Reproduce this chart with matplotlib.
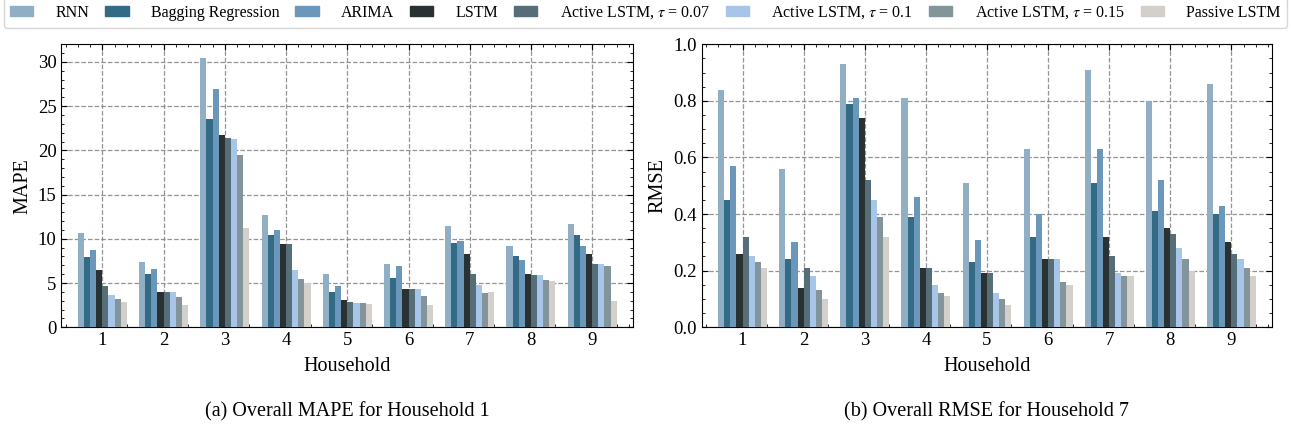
"""Grouped bar charts of MAPE and RMSE per household for the forecasting models."""

import matplotlib
matplotlib.use("Agg")
import matplotlib.pyplot as plt
import numpy as np
from matplotlib.patches import Patch
from matplotlib.ticker import AutoMinorLocator, MultipleLocator

households = [1, 2, 3, 4, 5, 6, 7, 8, 9]
models = [
    "RNN",
    "Bagging Regression",
    "ARIMA",
    "LSTM",
    r"Active LSTM, $\tau$ = 0.07",
    r"Active LSTM, $\tau$ = 0.1",
    r"Active LSTM, $\tau$ = 0.15",
    "Passive LSTM",
]
colors = ["#90AFC5", "#336B87", "#6A97BA", "#2A3132",
          "#556E78", "#A7C4E9", "#83959A", "#D3D0CB"]

# MAPE, one list per model (households 1..9)
mape_rnn = [10.7, 7.4, 30.5, 12.7, 6.0, 7.15, 11.45, 9.2, 11.7]
mape_bagging = [7.95, 6.0, 23.6, 10.4, 4.0, 5.6, 9.5, 8.05, 10.45]
mape_arima = [8.75, 6.6, 26.9, 11.0, 4.7, 6.95, 9.75, 7.6, 9.2]
mape_lstm = [6.5, 4.0, 21.7, 9.4, 3.1, 4.35, 8.3, 6.0, 8.3]
mape_act007 = [4.7, 4.0, 21.4, 9.4, 2.85, 4.35, 6.0, 5.9, 7.15]
mape_act01 = [3.65, 4.0, 21.3, 6.5, 2.75, 4.35, 4.8, 5.9, 7.15]
mape_act015 = [3.2, 3.45, 19.5, 5.45, 2.75, 3.55, 3.9, 5.35, 6.95]
mape_passive = [2.85, 2.5, 11.2, 5.0, 2.65, 2.5, 4.0, 5.25, 2.95]

# RMSE, one list per model (households 1..9)
rmse_rnn = [0.84, 0.56, 0.93, 0.81, 0.51, 0.63, 0.91, 0.80, 0.86]
rmse_bagging = [0.45, 0.24, 0.79, 0.39, 0.23, 0.32, 0.51, 0.41, 0.40]
rmse_arima = [0.57, 0.30, 0.81, 0.46, 0.31, 0.40, 0.63, 0.52, 0.43]
rmse_lstm = [0.26, 0.14, 0.74, 0.21, 0.19, 0.24, 0.32, 0.35, 0.30]
rmse_act007 = [0.32, 0.21, 0.52, 0.21, 0.19, 0.24, 0.25, 0.33, 0.26]
rmse_act01 = [0.25, 0.18, 0.45, 0.15, 0.12, 0.24, 0.19, 0.28, 0.24]
rmse_act015 = [0.23, 0.13, 0.39, 0.12, 0.10, 0.16, 0.18, 0.24, 0.21]
rmse_passive = [0.21, 0.10, 0.32, 0.11, 0.08, 0.15, 0.18, 0.20, 0.18]

mape = [mape_rnn, mape_bagging, mape_arima, mape_lstm,
        mape_act007, mape_act01, mape_act015, mape_passive]
rmse = [rmse_rnn, rmse_bagging, rmse_arima, rmse_lstm,
        rmse_act007, rmse_act01, rmse_act015, rmse_passive]

plt.rcParams["font.family"] = ["Liberation Serif", "DejaVu Serif"]
plt.rcParams["mathtext.fontset"] = "stix"

fig = plt.figure(figsize=(12.91, 4.34), dpi=100)
ax1 = fig.add_axes([0.0475, 0.246, 0.443, 0.652])
ax2 = fig.add_axes([0.5435, 0.246, 0.442, 0.652])

width = 0.1
x = np.array(households, dtype=float)


def draw(ax, data, ylabel, ylim, major, minor, caption):
    for i, (vals, c) in enumerate(zip(data, colors)):
        ax.bar(x + (i - 3.5) * width, vals, width, color=c, zorder=3)
    ax.set_xlim(0.33, 9.67)
    ax.set_ylim(*ylim)
    ax.set_xticks(households)
    ax.xaxis.set_minor_locator(AutoMinorLocator(5))
    ax.yaxis.set_major_locator(MultipleLocator(major))
    ax.yaxis.set_minor_locator(MultipleLocator(minor))
    ax.tick_params(which="both", direction="in", top=True, right=True,
                   labelsize=13.5)
    ax.tick_params(which="major", length=4)
    ax.tick_params(which="minor", length=2)
    ax.grid(True, which="major", linestyle="--", color="#888888",
            linewidth=0.9, alpha=0.9, zorder=0)
    ax.set_xlabel("Household", fontsize=14.5, labelpad=6)
    ax.set_ylabel(ylabel, fontsize=14.5)
    ax.text(0.5, -0.265, caption, transform=ax.transAxes, ha="center",
            va="top", fontsize=14.5)


draw(ax1, mape, "MAPE", (0, 32), 5, 1, "(a) Overall MAPE for Household 1")
draw(ax2, rmse, "RMSE", (0, 1.0), 0.2, 0.05, "(b) Overall RMSE for Household 7")
ax2.yaxis.set_major_formatter(plt.FuncFormatter(lambda v, p: f"{v:.1f}"))

handles = [Patch(color=c, label=m) for m, c in zip(models, colors)]
fig.legend(handles=handles, loc="lower left",
           bbox_to_anchor=(0.003, 0.936, 0.994, 0.06), mode="expand",
           ncol=8, fontsize=11.5, frameon=True, handlelength=1.45,
           handleheight=0.6, handletextpad=1.4, columnspacing=0.8,
           borderaxespad=0.0, fancybox=True, edgecolor="#cccccc")

fig.savefig("out.png", dpi=100)
